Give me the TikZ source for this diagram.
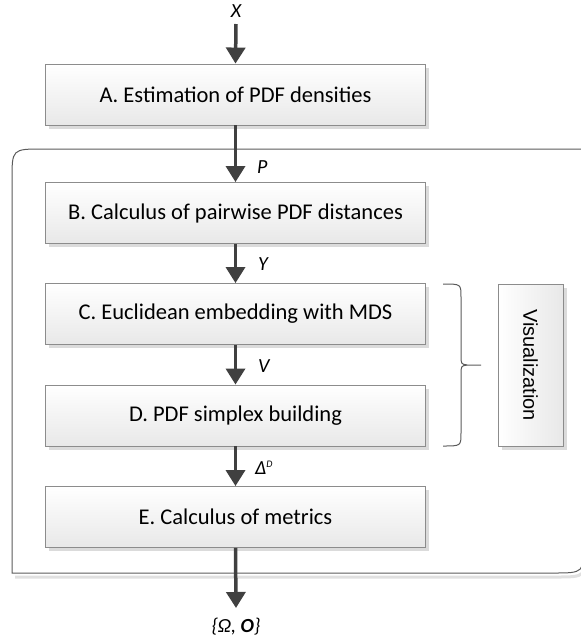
\documentclass[tikz,border=0pt]{standalone}
\usepackage{fontspec}
\setmainfont{Carlito}
\newfontfamily\arialf{Liberation Sans}
\usetikzlibrary{arrows.meta,shadows}
\definecolor{boxline}{HTML}{8C8C8C}
\definecolor{arrowc}{HTML}{404040}
\definecolor{contline}{HTML}{5A5A5A}
\tikzset{
  stepbox/.style={draw=boxline, line width=0.9pt, top color=white, bottom color=black!9,
    minimum width=380pt, minimum height=61pt, inner sep=0pt,
    font=\fontsize{22.5}{27}\selectfont,
    drop shadow={shadow xshift=3.5pt, shadow yshift=-3.5pt, fill=black!14, opacity=1}},
  flowarr/.style={draw=arrowc, line width=3.5pt, -{Triangle[length=16pt,width=19pt]}},
  lbl/.style={font=\fontsize{20}{24}\selectfont\itshape, inner sep=0pt},
}
\begin{document}
\begin{tikzpicture}[x=1pt,y=-1pt]
\clip (0,0) rectangle (581,638);
% container shadow and container
\draw[black!12, line width=3pt] (15,577) -- (556,577) .. controls (586,577) .. (586,547);
\draw[contline, line width=1pt] (584,149) -- (43,149) .. controls (12,149) .. (12,180) -- (12,573) -- (553,573) .. controls (584,573) .. (584,542) -- cycle;
% boxes
\node[stepbox] (A) at (235.5,94.5) {A. Estimation of PDF densities};
\node[stepbox] (B) at (235.5,213) {B. Calculus of pairwise PDF distances};
\node[stepbox] (C) at (235.5,314) {C. Euclidean embedding with MDS};
\node[stepbox] (D) at (235.5,415.5) {D. PDF simplex building};
\node[stepbox] (E) at (235.5,517) {E. Calculus of metrics};
\node[draw=boxline, line width=0.9pt, left color=white, right color=black!9,
      minimum width=65pt, minimum height=162pt, inner sep=0pt,
      drop shadow={shadow xshift=3.5pt, shadow yshift=-3.5pt, fill=black!14, opacity=1}]
      (vis) at (530.5,365) {};
\node[rotate=-90, font=\arialf\fontsize{20}{24}\selectfont, inner sep=0pt] (vist) at (vis.center) {Visualization};
% brace
\draw[contline, line width=1pt] (443,284) .. controls (461,284) .. (461,297) -- (461,355) .. controls (461,364) .. (467,365) -- (481,365);
\draw[contline, line width=1pt] (443,446) .. controls (461,446) .. (461,433) -- (461,375) .. controls (461,366) .. (467,365);
% labels and arrows
\node[lbl] (xl) at (236,11) {X};
\coordinate (xin) at (236,24);
\coordinate (out) at (236,608);
\draw[flowarr] (xin) -- (A.north);
\draw[flowarr] (A.south) -- (B.north);
\draw[flowarr] (B.south) -- (C.north);
\draw[flowarr] (C.south) -- (D.north);
\draw[flowarr] (D.south) -- (E.north);
\draw[flowarr] (E.south) -- (out);
\node[lbl, anchor=west] (pl) at (257,167) {P};
\node[lbl, anchor=west] (yl) at (258,264) {Y};
\node[lbl, anchor=west] (vl) at (258,366) {V};
\node[lbl, anchor=west] (dl) at (255,468) {Δ\textsuperscript{\fontsize{10}{12}\selectfont D}};
\node[lbl] (ol) at (236,627) {\{Ω, \textbf{O}\}};
\end{tikzpicture}
\end{document}
